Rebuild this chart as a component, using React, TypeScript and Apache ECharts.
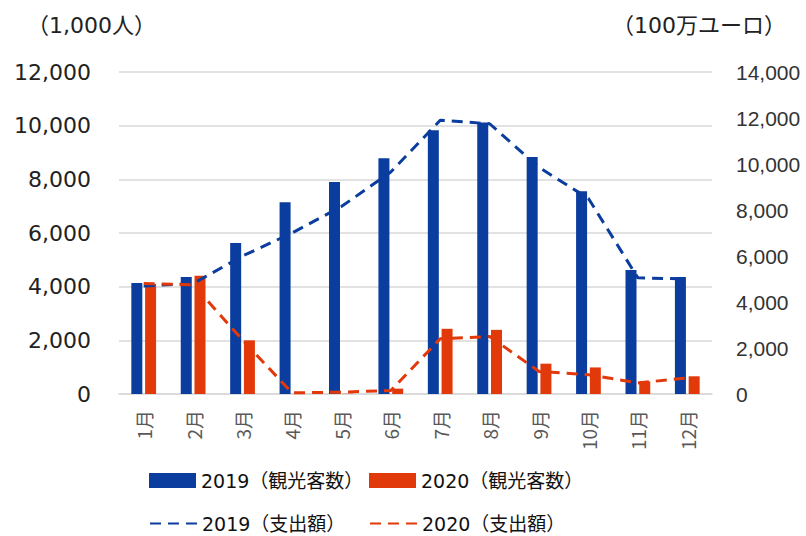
import React, { useEffect, useRef } from "react";
import * as echarts from "echarts";

const months = ["1月", "2月", "3月", "4月", "5月", "6月", "7月", "8月", "9月", "10月", "11月", "12月"];
// visitors, thousands of people (left axis)
const visitors2019 = [4140, 4360, 5630, 7150, 7900, 8790, 9830, 10120, 8830, 7560, 4620, 4360];
const visitors2020 = [4100, 4410, 2000, 10, 10, 200, 2430, 2390, 1130, 990, 470, 660];
// spending, million euros (right axis)
const spending2019 = [4700, 4800, 6000, 7000, 8150, 9650, 11900, 11750, 9850, 8500, 5050, 5000];
const spending2020 = [4800, 4750, 2350, 50, 80, 150, 2400, 2500, 980, 840, 480, 700];

const leftTicks = { min: 0, max: 12000, interval: 2000 };
const rightTicks = { min: 0, max: 14000, interval: 2000 };

const BLUE = "#0A3D9E";
const ORANGE = "#E2390B";
const CJK = "'Noto Sans CJK JP', sans-serif";
const MIXED = "'DejaVu Sans', 'Noto Sans CJK JP', sans-serif";

const nameBar19 = "2019（観光客数）";
const nameBar20 = "2020（観光客数）";
const nameLine19 = "2019（支出額）";
const nameLine20 = "2020（支出額）";

export default function App() {
  const ref = useRef<HTMLDivElement>(null);

  useEffect(() => {
    if (!ref.current) return;
    const chart = echarts.init(ref.current, null, { renderer: "svg" });
    const fmt = (v: number) => v.toLocaleString("en-US");
    const legendText = { fontSize: 19, color: "#111", fontFamily: MIXED };
    const legendBase = {
      orient: "horizontal" as const,
      itemWidth: 47,
      itemHeight: 15,
      itemGap: 5,
      padding: 0,
      textStyle: legendText,
      selectedMode: false,
    };
    chart.setOption({
      animation: false,
      backgroundColor: "#fff",
      grid: { left: 119, right: 94, top: 72, bottom: 142 },
      graphic: [
        { type: "text", left: 27, top: 14, style: { text: "（1,000人）", fontSize: 22, fill: "#222", fontFamily: MIXED } },
        { type: "text", left: 612, top: 14, style: { text: "（100万ユーロ）", fontSize: 22, fill: "#222", fontFamily: MIXED } },
      ],
      xAxis: {
        type: "category",
        data: months,
        axisLine: { lineStyle: { color: "#d9d9d9", width: 1.5 } },
        axisTick: { show: false },
        axisLabel: { rotate: 90, margin: 16, fontSize: 19, color: "#595959", fontFamily: CJK },
      },
      yAxis: [
        {
          type: "value",
          ...leftTicks,
          position: "left",
          axisLine: { show: false },
          axisTick: { show: false },
          splitLine: { lineStyle: { color: "#d9d9d9", width: 1.5 } },
          axisLabel: { margin: 28, fontSize: 22, color: "#222", fontFamily: "'DejaVu Sans', sans-serif", formatter: fmt },
        },
        {
          type: "value",
          ...rightTicks,
          position: "right",
          axisLine: { show: false },
          axisTick: { show: false },
          splitLine: { show: false },
          axisLabel: { margin: 24, fontSize: 21, color: "#333", fontFamily: "'Liberation Sans', Arial, sans-serif", formatter: fmt },
        },
      ],
      legend: [
        { ...legendBase, left: 149, top: 471, data: [{ name: nameBar19, icon: "rect" }] },
        { ...legendBase, left: 369, top: 471, data: [{ name: nameBar20, icon: "rect" }] },
        { ...legendBase, left: 149, top: 514, itemStyle: { opacity: 0 }, data: [{ name: nameLine19 }] },
        { ...legendBase, left: 369, top: 514, itemStyle: { opacity: 0 }, data: [{ name: nameLine20 }] },
      ],
      series: [
        { name: nameBar19, type: "bar", data: visitors2019, barWidth: 11, barGap: "25%", itemStyle: { color: BLUE } },
        { name: nameBar20, type: "bar", data: visitors2020, barWidth: 11, barGap: "25%", itemStyle: { color: ORANGE } },
        {
          name: nameLine19,
          type: "line",
          yAxisIndex: 1,
          data: spending2019,
          symbol: "none",
          itemStyle: { color: BLUE },
          lineStyle: { color: BLUE, width: 3, type: [11, 7] },
        },
        {
          name: nameLine20,
          type: "line",
          yAxisIndex: 1,
          data: spending2020,
          symbol: "none",
          itemStyle: { color: ORANGE },
          lineStyle: { color: ORANGE, width: 3, type: [11, 7] },
        },
      ],
    });
    return () => chart.dispose();
  }, []);

  return <div ref={ref} style={{ position: "fixed", left: 0, top: 0, width: 806, height: 536 }} />;
}
